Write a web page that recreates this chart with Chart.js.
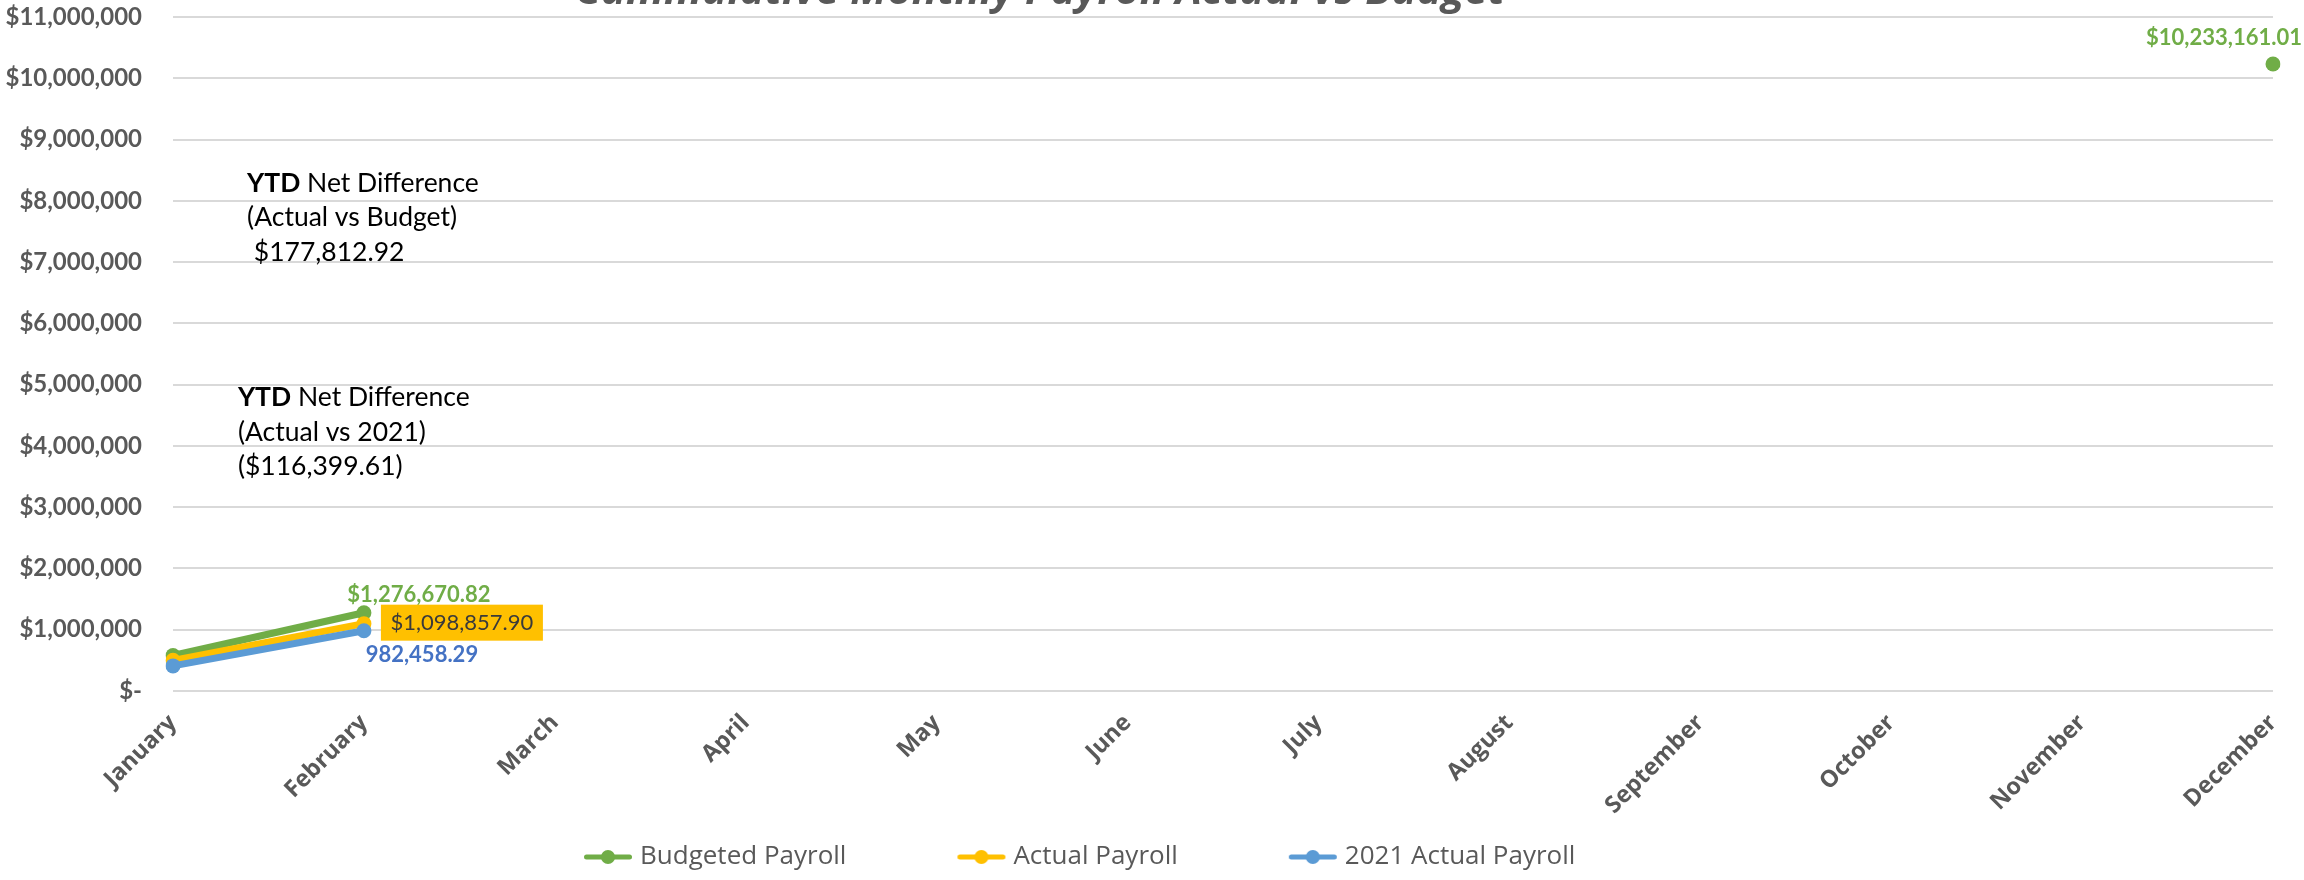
<!DOCTYPE html>
<html>
<head>
<meta charset="utf-8">
<script src="https://cdn.jsdelivr.net/npm/chart.js@4.4.1/dist/chart.umd.min.js"></script>
<style>
html,body{margin:0;padding:0;background:#ffffff;}
#wrap{width:2304px;height:880px;position:relative;overflow:hidden;}
canvas{display:block;}
</style>
</head>
<body>
<div id="wrap"><canvas id="c" width="2304" height="880"></canvas></div>
<script>
// ---------------- data ----------------
const months = ['January','February','March','April','May','June','July','August','September','October','November','December'];
const budgetedPayroll   = [580000, 1276670.82, null, null, null, null, null, null, null, null, null, 10233161.01];
const actualPayroll     = [500000, 1098857.90, null, null, null, null, null, null, null, null, null, null];
const actual2021Payroll = [410000,  982458.29, null, null, null, null, null, null, null, null, null, null];
const seriesNames = ['Budgeted Payroll', 'Actual Payroll', '2021 Actual Payroll'];
const yMin = 0, yMax = 11000000, yStep = 1000000;
const titleText = 'Cummulative Monthly Payroll Actual vs Budget';
const noteBudgetLines = [[['YTD', true], [' Net Difference', false]], [['(Actual vs Budget)', false]], [[' $177,812.92', false]]];
const note2021Lines   = [[['YTD', true], [' Net Difference', false]], [['(Actual vs 2021)', false]], [['($116,399.61)', false]]];

// ---------------- styles ----------------
const GREEN = '#70AD47', YELLOW = '#FFC000', BLUE = '#5B9BD5', BLUE_TXT = '#4472C4', GREY = '#595959';
const TARGET = {left: 173, right: 2273, top: 17, bottom: 691, legendY: 857, legendX: 584};
const LEG_GAP = 96;    // extra transparent room before each legend icon
const LEG_ICON = 48;
const LEG_OVER = 6;    // icon canvas overhang each side of the legend box
const LEG_SHIFT = 5;   // icon pushed this far past the box's right edge

const money = v => '$' + v.toLocaleString('en-US', {minimumFractionDigits: 2, maximumFractionDigits: 2});
const plain = v => v.toLocaleString('en-US', {minimumFractionDigits: 2, maximumFractionDigits: 2});

function legendIcon(color) {
  const c = document.createElement('canvas');
  const W = LEG_GAP + LEG_ICON + 2 * LEG_OVER;
  c.width = W; c.height = 18;
  const x = c.getContext('2d');
  const x1 = LEG_OVER + LEG_GAP + LEG_ICON + LEG_SHIFT, x0 = x1 - LEG_ICON;
  x.strokeStyle = color; x.lineWidth = 5; x.lineCap = 'round';
  x.beginPath(); x.moveTo(x0 + 2.5, 9); x.lineTo(x1 - 2.5, 9); x.stroke();
  x.fillStyle = color; x.beginPath(); x.arc((x0 + x1) / 2, 9, 7, 0, Math.PI * 2); x.fill();
  return c;
}
const icons = {};
icons[seriesNames[0]] = legendIcon(GREEN);
icons[seriesNames[1]] = legendIcon(YELLOW);
icons[seriesNames[2]] = legendIcon(BLUE);

// labels attached to points: dataset label, index, formatter, style and offset from the point
const pointLabels = [
  {ds: seriesNames[0], idx: 1, fmt: money, font: 'bold 22px Lato', color: GREEN, dx: 55, dy: -18},
  {ds: seriesNames[0], idx: 11, fmt: money, font: 'bold 22px Lato', color: GREEN, dx: -49, dy: -26},
  {ds: seriesNames[1], idx: 1, fmt: money, font: '22px Lato', color: '#3a3a3a', dx: 98, dy: -1, bg: YELLOW, bw: 162, bh: 36},
  {ds: seriesNames[2], idx: 1, fmt: plain, font: 'bold 22px Lato', color: BLUE_TXT, dx: 58, dy: 24}
];
// text notes anchored in data space (category index, value)
const notes = [
  {lines: noteBudgetLines, cat: 0.388, val: 8290000},
  {lines: note2021Lines, cat: 0.34, val: 4790000}
];

const labelPlugin = {
  id: 'pointLabels',
  afterDatasetsDraw(chart) {
    const ctx = chart.ctx;
    ctx.save();
    ctx.textBaseline = 'middle';
    ctx.textAlign = 'center';
    pointLabels.forEach(p => {
      const di = chart.data.datasets.findIndex(d => d.label === p.ds);
      const el = chart.getDatasetMeta(di).data[p.idx];
      const v = chart.data.datasets[di].data[p.idx];
      if (!el || v == null) return;
      const cx = el.x + p.dx, cy = el.y + p.dy;
      if (p.bg) { ctx.fillStyle = p.bg; ctx.fillRect(cx - p.bw / 2, cy - p.bh / 2, p.bw, p.bh); }
      ctx.font = p.font; ctx.fillStyle = p.color;
      ctx.fillText(p.fmt(v), cx, cy);
    });
    // notes
    const xs = chart.scales.x, ys = chart.scales.y;
    ctx.textAlign = 'left';
    ctx.fillStyle = '#000000';
    notes.forEach(n => {
      const x0 = xs.getPixelForValue(0) + n.cat * (xs.getPixelForValue(1) - xs.getPixelForValue(0));
      let y = ys.getPixelForValue(n.val);
      n.lines.forEach(line => {
        let x = x0;
        line.forEach(([t, b]) => {
          ctx.font = (b ? 'bold ' : '') + '26.5px Lato';
          ctx.fillText(t, x, y);
          x += ctx.measureText(t).width;
        });
        y += 34.5;
      });
    });
    ctx.restore();
  },
  afterDraw(chart) {
    const ctx = chart.ctx;
    ctx.save();
    ctx.font = 'italic bold 42px "Open Sans"';
    ctx.fillStyle = GREY;
    ctx.textAlign = 'center';
    ctx.textBaseline = 'alphabetic';
    ctx.fillText(titleText, chart.width * 0.4514, 4);
    ctx.restore();
  }
};

let legendShift = 0;
const legendShiftPlugin = {
  id: 'legendShift',
  afterLayout(chart) {
    if (chart.legend) { chart.legend.left += legendShift; chart.legend.right += legendShift; }
  }
};

let xAxisH = 140;
const pad = {left: 0, right: 31, top: 17, bottom: 2};

const mk = (name, data, color) => ({
  label: name, data, borderColor: color, backgroundColor: color,
  pointBackgroundColor: color, pointBorderColor: color, pointBorderWidth: 0,
  pointRadius: 7.5, pointHoverRadius: 7.5, borderWidth: 7, spanGaps: false, tension: 0
});

const chart = new Chart(document.getElementById('c'), {
  type: 'line',
  data: {
    labels: months,
    datasets: [
      mk(seriesNames[2], actual2021Payroll, BLUE),
      mk(seriesNames[1], actualPayroll, YELLOW),
      mk(seriesNames[0], budgetedPayroll, GREEN)
    ]
  },
  options: {
    responsive: false,
    devicePixelRatio: 1,
    animation: false,
    layout: {padding: pad},
    plugins: {
      title: {display: false},
      tooltip: {enabled: false},
      legend: {
        position: 'bottom',
        reverse: true,
        labels: {
          usePointStyle: true,
          pointStyleWidth: LEG_GAP + LEG_ICON,
          padding: 10,
          color: GREY,
          font: {family: '"Open Sans"', size: 26},
          generateLabels(ch) {
            const items = Chart.defaults.plugins.legend.labels.generateLabels(ch);
            items.forEach(it => { it.pointStyle = icons[it.text]; });
            return items;
          }
        }
      }
    },
    scales: {
      x: {
        offset: false,
        grid: {display: false, drawTicks: false},
        border: {display: false},
        ticks: {autoSkip: false, minRotation: 45, maxRotation: 45, padding: 18, color: GREY,
                font: {family: '"Open Sans"', size: 23.5, weight: 'bold'}},
        afterFit(s) { s.height = xAxisH; s.paddingLeft = 0; s.paddingRight = 0; }
      },
      y: {
        min: yMin, max: yMax,
        grid: {color: '#D9D9D9', lineWidth: 2, drawTicks: false},
        border: {display: false},
        ticks: {stepSize: yStep, padding: 31, color: GREY,
                font: {family: 'Lato', size: 24, weight: 'bold'},
                callback: v => v === 0 ? '$-' : '$' + Number(v).toLocaleString('en-US')},
        afterFit(s) { s.width = TARGET.left; s.paddingTop = 0; s.paddingBottom = 0; }
      }
    }
  },
  plugins: [labelPlugin, legendShiftPlugin]
});

// calibrate layout box sizes to the target plot area
function calibrate() {
  const ca = chart.chartArea;
  pad.top += TARGET.top - ca.top;
  pad.right += ca.right - TARGET.right;
  const hb = chart.legend.legendHitBoxes[0];
  const lc = hb.top + hb.height / 2;
  pad.bottom += lc - TARGET.legendY;
  legendShift += TARGET.legendX - (hb.left + LEG_GAP + LEG_SHIFT);
  chart.options.layout.padding = Object.assign({}, pad);
  chart.update();
  xAxisH += chart.chartArea.bottom - TARGET.bottom;
  chart.update();
}
calibrate();
calibrate();
calibrate();
</script>
</body>
</html>
